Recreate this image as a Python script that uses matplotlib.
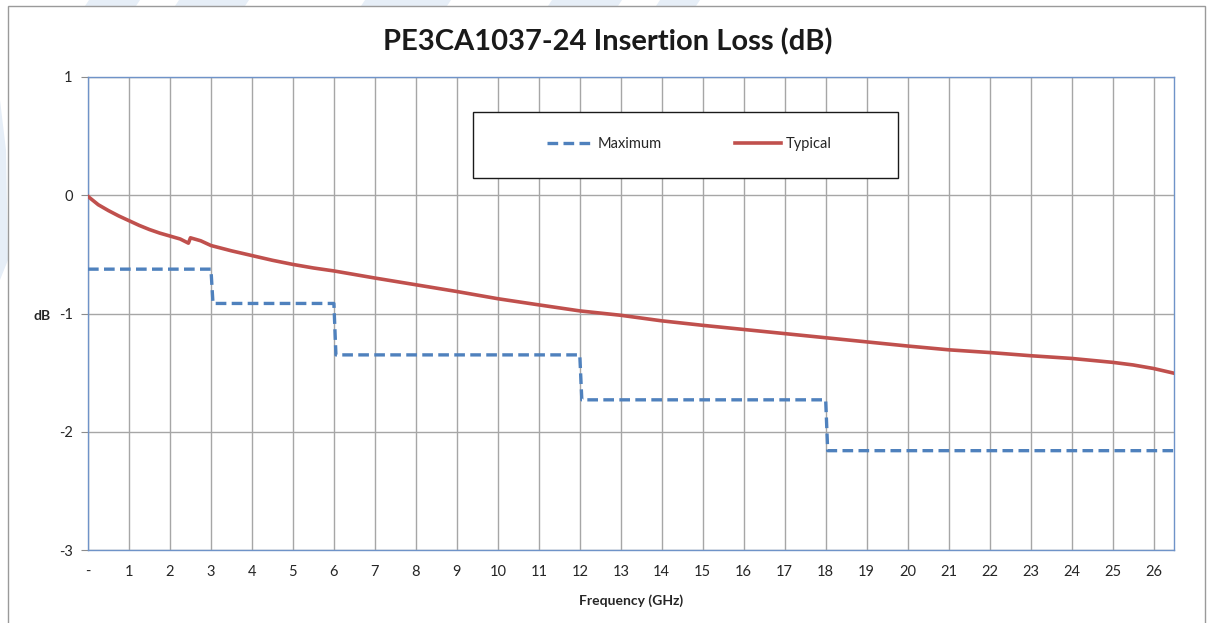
import matplotlib
matplotlib.use("Agg")
import matplotlib.pyplot as plt
from matplotlib.patches import Rectangle, Polygon

# ---- data ----
max_freq = [0, 3, 3.05, 6, 6.05, 12, 12.05, 18, 18.05, 26.5]
max_loss = [-0.625, -0.625, -0.915, -0.915, -1.35, -1.35, -1.73, -1.73, -2.16, -2.16]

typ_freq = [0, 0.25, 0.5, 0.75, 1, 1.25, 1.5, 1.75, 2, 2.25, 2.45, 2.5, 2.75, 3,
            3.5, 4, 4.5, 5, 5.5, 6, 7, 8, 9, 10, 11, 12, 13, 14, 15, 16, 17, 18,
            19, 20, 21, 22, 23, 24, 25, 25.5, 26, 26.5]
typ_loss = [-0.01, -0.08, -0.13, -0.175, -0.215, -0.255, -0.29, -0.32, -0.345,
            -0.37, -0.405, -0.36, -0.385, -0.425, -0.47, -0.51, -0.55, -0.585,
            -0.615, -0.64, -0.70, -0.757, -0.814, -0.875, -0.927, -0.978, -1.015,
            -1.062, -1.10, -1.135, -1.17, -1.205, -1.24, -1.275, -1.307, -1.33,
            -1.357, -1.38, -1.413, -1.435, -1.465, -1.505]

x_ticks = list(range(0, 27))
x_labels = ["-"] + [str(i) for i in range(1, 27)]
y_ticks = [-3, -2, -1, 0, 1]
y_labels = ["-3", "-2", "-1", "0", "1"]

title = "PE3CA1037-24 Insertion Loss (dB)"
xlabel = "Frequency (GHz)"
ylabel = "dB"

RED = "#C0504D"
BLUE = "#4F81BD"
GRID = "#A6A6A6"
TXT = "#262626"
FONT = "Lato"

W, H = 1212, 623
fig = plt.figure(figsize=(W / 100, H / 100), dpi=100)
fig.patch.set_facecolor("white")

# watermark bits at the very top / left edge
wm = "#E6EEF7"
for xa, xb in [(89, 140), (179, 249), (365, 451), (552, 622), (660, 700)]:
    fig.patches.append(Polygon([(xa / W, 1), (xb / W, 1), ((xb - 4) / W, 1 - 6 / H), ((xa - 4) / W, 1 - 6 / H)],
                               closed=True, transform=fig.transFigure, facecolor=wm, edgecolor="none", zorder=0))
fig.patches.append(Polygon([(0, 1 - 100 / H), (6 / W, 1 - 150 / H), (8 / W, 1 - 260 / H), (0, 1 - 280 / H)],
                           closed=True, transform=fig.transFigure, facecolor=wm, edgecolor="none", zorder=0))

# outer chart border
fig.patches.append(Rectangle((8 / W, -0.05), (1205 - 8) / W, 1 - 6 / H + 0.05,
                             transform=fig.transFigure, facecolor="white",
                             edgecolor="#9A9A9A", linewidth=1.0, zorder=0.5))

ax = fig.add_axes([88 / W, 1 - 550 / H, (1174 - 88) / W, (550 - 77) / H])
ax.set_zorder(1)
ax.set_facecolor("white")
ax.set_xlim(0, 26.5)
ax.set_ylim(-3, 1)

ax.set_xticks(x_ticks)
ax.set_xticklabels(x_labels, fontsize=10.5, color=TXT, family=FONT)
ax.set_yticks(y_ticks)
ax.set_yticklabels(y_labels, fontsize=10.5, color=TXT, family=FONT)
ax.tick_params(axis="x", length=0, pad=11)
ax.tick_params(axis="y", length=5, width=0.8, color="#8C8C8C", pad=6, direction="out")

ax.grid(True, color=GRID, linewidth=1.0)
ax.set_axisbelow(True)
for s in ax.spines.values():
    s.set_color("#6F93C8")
    s.set_linewidth(1.0)

ax.plot(max_freq, max_loss, color=BLUE, linewidth=2.4, dashes=(3.2, 1.6),
        label="Maximum", zorder=3, solid_capstyle="butt")
ax.plot(typ_freq, typ_loss, color=RED, linewidth=2.6, label="Typical", zorder=4)

fig.text(608 / W, 1 - 42 / H, title, ha="center", va="center", fontsize=21,
         fontweight="bold", color="#1a1a1a", family=FONT, zorder=2)
fig.text(631 / W, 1 - 601 / H, xlabel, ha="center", va="center", fontsize=10,
         fontweight="bold", color=TXT, family=FONT, zorder=2)
fig.text(42 / W, 1 - 316 / H, ylabel, ha="center", va="center", fontsize=10,
         fontweight="bold", color=TXT, family=FONT, zorder=2)

# legend box
fig.patches.append(Rectangle((473 / W, 1 - 178 / H), (898 - 473) / W, (178 - 112) / H,
                             transform=fig.transFigure, facecolor="white",
                             edgecolor="#1a1a1a", linewidth=1.0, zorder=5))
leg = fig.legend(loc="center", bbox_to_anchor=(689 / W, 1 - 144 / H), ncol=2,
                 frameon=False, handlelength=3.2, handletextpad=0.3,
                 columnspacing=5.0, prop={"family": FONT, "size": 10.5})
leg.set_zorder(6)
for t in leg.get_texts():
    t.set_color(TXT)

fig.savefig("out.png", dpi=100, facecolor="white")
